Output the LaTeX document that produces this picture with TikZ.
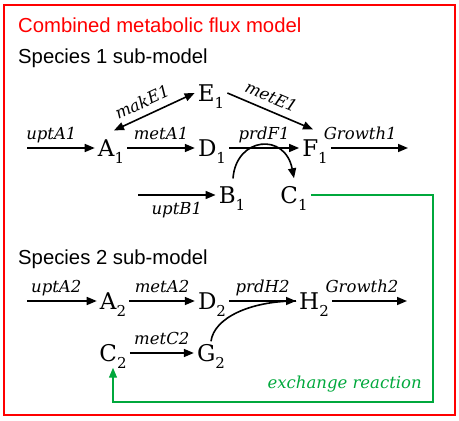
\documentclass[tikz,border=0pt]{standalone}
\usepackage{fontspec}
\setmainfont{Liberation Sans}
\newfontfamily\serifface{DejaVu Serif}
\usetikzlibrary{arrows.meta, positioning}

\definecolor{frame}{RGB}{255,0,0}
\definecolor{exchgreen}{RGB}{0,168,60}

% species letter with a lowered index
\newcommand{\spc}[2]{#1\raisebox{-0.3em}{\fontsize{15}{15}\selectfont #2}}

\tikzset{
    species/.style={inner sep=3pt, text depth=0pt, font=\serifface\fontsize{23}{23}\selectfont},
    rxn/.style={inner sep=0pt, text depth=0pt, font=\serifface\itshape\fontsize{16.5}{16.5}\selectfont},
    heading/.style={inner sep=0pt, font=\fontsize{20.3}{20.3}\selectfont},
    flux/.style={line width=1.6pt},
    exch/.style={draw=exchgreen, line width=1.3pt},
    >={Triangle[length=10pt, width=8pt]},
}

\begin{document}
\begin{tikzpicture}[x=1pt, y=-1pt]
    \useasboundingbox (0,0) rectangle (459,421);

    % outer frame and headings
    \draw[frame, line width=2.6pt] (4,5) rectangle (455,415);
    \node[heading, anchor=base west, text=frame] (title) at (18,32) {Combined metabolic flux model};
    \node[heading, anchor=base west] (sp1) at (18,63) {Species 1 sub-model};
    \node[heading, anchor=base west] (sp2) at (18,264) {Species 2 sub-model};

    % Species 1 metabolites
    \node[species] (A1) at (111,148) {\spc{A}{1}};
    \node[species] (D1) at (212,148) {\spc{D}{1}};
    \node[species] (F1) at (315,148) {\spc{F}{1}};
    \node[species] (E1) at (211,93) {\spc{E}{1}};
    \node[species] (B1) at (232,195) {\spc{B}{1}};
    \node[species] (C1) at (294,195) {\spc{C}{1}};
    \coordinate (inA1) at (27,148);
    \coordinate (outF1) at (408,148);
    \coordinate (inB1) at (138,195);

    % Species 1 reactions
    \draw[flux, ->] (inA1) -- node[rxn, above=8pt, pos=0.36] {uptA1} (A1);
    \draw[flux, ->] (A1) -- node[rxn, above=8pt] {metA1} (D1);
    \draw[flux, ->] (D1) -- node[rxn, above=8pt] {prdF1} (F1);
    \draw[flux, ->] (F1) -- node[rxn, above=8pt, pos=0.38] {Growth1} (outF1);
    \draw[flux, <->] ([xshift=3pt, yshift=6pt]A1.north) -- node[rxn, sloped, above=7pt, pos=0.42] {makE1} (E1.west);
    \draw[flux, ->] (E1.east) -- node[rxn, sloped, above=7pt, pos=0.45] {metE1} ([xshift=-2pt, yshift=7pt]F1.north);
    \draw[flux, ->] (inB1) -- node[rxn, below=6pt] {uptB1} (B1);
    \draw[flux, ->] ([xshift=1pt, yshift=5pt]B1.north) .. controls (236,137) and (285,132) .. ([yshift=5pt]C1.north);

    % Species 2 metabolites
    \node[species] (A2) at (113,301) {\spc{A}{2}};
    \node[species] (D2) at (212,301) {\spc{D}{2}};
    \node[species] (H2) at (314,301) {\spc{H}{2}};
    \node[species] (C2) at (113,353) {\spc{C}{2}};
    \node[species] (G2) at (211,353) {\spc{G}{2}};
    \coordinate (inA2) at (27,301);
    \coordinate (outH2) at (407,301);

    % Species 2 reactions
    \draw[flux, ->] (inA2) -- node[rxn, above=8pt, pos=0.42] {uptA2} (A2);
    \draw[flux, ->] (A2) -- node[rxn, above=8pt] {metA2} (D2);
    \draw[flux, ->] (D2) -- node[rxn, above=8pt] {prdH2} (H2);
    \draw[flux, ->] (H2) -- node[rxn, above=8pt, pos=0.4] {Growth2} (outH2);
    \draw[flux, ->] (C2) -- node[rxn, above=8pt] {metC2} (G2);
    \draw[flux] (G2.north) .. controls (214,318) and (250,301) .. (H2.west);

    % exchange between the two sub-models
    \coordinate (gb) at (433,402);
    \draw[exch, ->] (C1.east) -| (gb) -| ([yshift=-3pt]C2.south);
    \node[rxn, text=exchgreen, anchor=base east] (exlabel) at (422,388) {exchange reaction};
\end{tikzpicture}
\end{document}
